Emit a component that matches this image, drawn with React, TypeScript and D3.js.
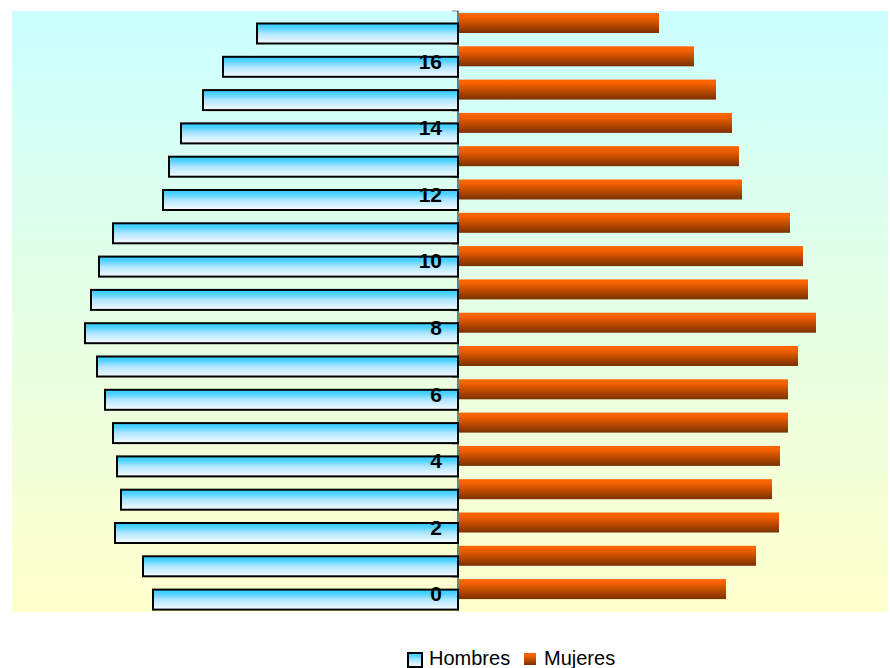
import React from "react";
import * as d3 from "d3";

const categories = d3.range(0, 18).map((d) => String(d));
const hombres = [306, 316, 344, 338, 342, 346, 354, 362, 374, 368, 360, 346, 296, 290, 278, 256, 236, 202];
const mujeres = [268, 298, 321, 314, 322, 330, 330, 340, 358, 350, 345, 332, 284, 281, 274, 258, 236, 201];
const tickLabels = ["0", "2", "4", "6", "8", "10", "12", "14", "16"];
const seriesNames = ["Hombres", "Mujeres"];

const W = 890;
const H = 668;
const plot = { left: 12, right: 888, top: 11, bottom: 612 };

export default function App() {
  const x = d3.scaleLinear().domain([-446, 430]).range([plot.left, plot.right]);
  const y = d3
    .scaleBand<string>()
    .domain([...categories].reverse())
    .range([plot.top, plot.top + 18 * 33.3])
    .padding(0);
  const bw = y.bandwidth();
  const x0 = x(0);
  const font = "'Liberation Sans', Arial, sans-serif";

  return (
    <svg
      width={W}
      height={H}
      style={{ position: "absolute", left: 0, top: 0, background: "#fff" }}
      fontFamily={font}
    >
      <defs>
        <linearGradient id="bg" x1="0" y1="0" x2="0" y2="1">
          <stop offset="0" stopColor="#ccffff" />
          <stop offset="1" stopColor="#ffffcc" />
        </linearGradient>
        <linearGradient id="male" x1="0" y1="0" x2="0" y2="1">
          <stop offset="0" stopColor="#33ccff" />
          <stop offset="0.2" stopColor="#4dd2ff" />
          <stop offset="0.5" stopColor="#b0e6ff" />
          <stop offset="1" stopColor="#f8fcff" />
        </linearGradient>
        <linearGradient id="female" x1="0" y1="0" x2="0" y2="1">
          <stop offset="0" stopColor="#ff6600" />
          <stop offset="0.2" stopColor="#f56100" />
          <stop offset="1" stopColor="#7a3000" />
        </linearGradient>
      </defs>
      <rect
        x={plot.left}
        y={plot.top}
        width={plot.right - plot.left}
        height={plot.bottom - plot.top}
        fill="url(#bg)"
      />
      {/* axis ticks */}
      {tickLabels.map((t) => {
        const yy = y(t) as number;
        return <line key={"tk" + t} x1={x0 - 6} x2={x0} y1={yy} y2={yy} stroke="#808080" strokeWidth={1} />;
      })}
      <line x1={x0 - 6} x2={x0} y1={plot.top} y2={plot.top} stroke="#808080" strokeWidth={1} />
      {/* female bars */}
      {categories.map((c, i) => {
        const y0 = y(c) as number;
        return (
          <rect
            key={"f" + c}
            x={x0 + 1}
            y={y0 + 2}
            width={x(mujeres[i]) - x0 - 1}
            height={20}
            fill="url(#female)"
          />
        );
      })}
      {/* male bars */}
      {categories.map((c, i) => {
        const y0 = y(c) as number;
        const left = x(-hombres[i]) + 1;
        return (
          <rect
            key={"m" + c}
            x={left}
            y={y0 + 12.5}
            width={x0 - left}
            height={20}
            fill="url(#male)"
            stroke="#000"
            strokeWidth={2}
          />
        );
      })}
      <line x1={x0} x2={x0} y1={plot.top} y2={plot.bottom - 1} stroke="#000" strokeWidth={1} />
      {/* category labels */}
      {tickLabels.map((t) => (
        <text
          key={"l" + t}
          x={x0 - 16}
          y={(y(t) as number) + bw / 2}
          dy="0.36em"
          textAnchor="end"
          fontSize={21}
          fontWeight="bold"
          fill="#000"
        >
          {t}
        </text>
      ))}
      {/* legend */}
      <g>
        <rect x={408} y={653} width={14} height={14} fill="url(#male)" stroke="#000" strokeWidth={2} />
        <text x={429} y={664.5} fontSize={20} fill="#000">
          {seriesNames[0]}
        </text>
        <rect x={524} y={653} width={12} height={12} fill="url(#female)" />
        <text x={544} y={664.5} fontSize={20} fill="#000">
          {seriesNames[1]}
        </text>
      </g>
    </svg>
  );
}
